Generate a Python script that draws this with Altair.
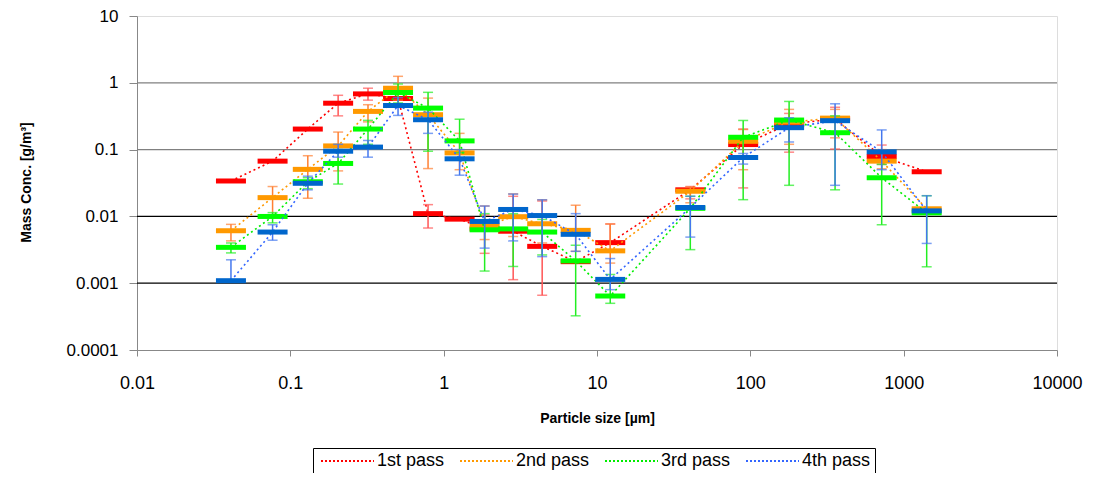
import altair as alt
import pandas as pd

sizes = [0.041, 0.0766, 0.130, 0.205, 0.321, 0.504, 0.791, 1.27, 1.85, 2.84,
         4.39, 7.26, 12.2, 40.6, 89.8, 179, 357, 719, 1413]

series = ["1st pass", "2nd pass", "3rd pass", "4th pass"]

p1_val = [0.0339, 0.0672, 0.203, 0.495, 0.682, 0.582, 0.011, 0.0091, 0.0065, 0.0060,
          0.00356, 0.0021, 0.00405, 0.025, 0.119, 0.241, 0.288, 0.0789, 0.0466]
p1_lo = [None, None, None, 0.32, 0.55, None, 0.0067, None, 0.0028, 0.00113,
         0.00066, None, 0.003, 0.0183, 0.0267, 0.0915, 0.102, 0.06, None]
p1_hi = [None, None, None, 0.65, 0.83, None, 0.015, None, 0.0105, 0.02,
         0.017, None, 0.0077, 0.028, 0.203, 0.348, 0.43, 0.117, None]

p2_val = [0.0061, 0.0191, 0.0506, 0.1135, 0.373, 0.83, 0.333, 0.0893, 0.0072, 0.0099,
          0.00776, 0.00618, 0.00305, 0.0238, 0.133, 0.258, 0.296, 0.0672, 0.0130]
p2_lo = [0.0043, 0.0096, 0.0187, 0.048, 0.26, 0.55, 0.052, 0.05, 0.0045, 0.005,
         0.004, 0.003, 0.002, 0.016, 0.05, 0.12, 0.15, 0.0516, None]
p2_hi = [0.0076, 0.028, 0.081, 0.183, 0.47, 1.25, 0.59, 0.175, 0.0143, 0.0217,
         0.0177, 0.0147, 0.0077, 0.0275, 0.2, 0.4, 0.4, 0.1, None]

p3_val = [0.00344, 0.00998, 0.033, 0.062, 0.203, 0.714, 0.418, 0.135, 0.0063, 0.0065,
          0.00583, 0.00216, 0.000643, 0.0132, 0.153, 0.277, 0.179, 0.0379, 0.0113]
p3_lo = [0.00284, 0.0080, 0.026, 0.0305, 0.12, 0.5, 0.0946, 0.09, 0.00152, 0.00178,
         0.00265, 0.000325, 0.0005, 0.00318, 0.0178, 0.0292, 0.025, 0.0075, 0.00176]
p3_hi = [0.0040, 0.0114, 0.038, 0.1, 0.274, 0.96, 0.72, 0.285, 0.011, 0.011,
         0.009, 0.0037, 0.00135, 0.02, 0.273, 0.526, 0.32, 0.06, 0.0204]

p4_val = [0.00109, 0.00583, 0.0313, 0.0946, 0.109, 0.458, 0.28, 0.0728, 0.0084, 0.0127,
          0.0103, 0.00539, 0.00114, 0.0136, 0.0762, 0.213, 0.271, 0.0925, 0.0121]
p4_lo = [0.00109, 0.0044, 0.025, 0.077, 0.077, 0.325, 0.175, 0.0414, 0.00335, 0.0043,
         0.0025, 0.003, 0.0008, 0.0049, 0.0607, 0.13, 0.0292, 0.05, 0.00394]
p4_hi = [0.00224, 0.0075, 0.04, 0.12, 0.137, 0.6, 0.364, 0.1, 0.0143, 0.0216,
         0.0177, 0.0110, 0.00234, 0.02, 0.0875, 0.3, 0.485, 0.197, 0.0204]

grid_gray = [1, 0.1]
grid_black = [0.01, 0.001]

x_ticks = [0.01, 0.1, 1, 10, 100, 1000, 10000]
y_ticks = [0.0001, 0.001, 0.01, 0.1, 1, 10]

line_colors = ["#FF0000", "#FF9900", "#00EE00", "#3366FF"]
bar_colors = ["#FF0000", "#FF9900", "#00FF00", "#0066CC"]
err_colors = ["#FF5555", "#FF8033", "#22EE22", "#4477EE"]

rows = []
for name, vals, los, his in zip(series, [p1_val, p2_val, p3_val, p4_val],
                                [p1_lo, p2_lo, p3_lo, p4_lo], [p1_hi, p2_hi, p3_hi, p4_hi]):
    for i, (s, v, l, h) in enumerate(zip(sizes, vals, los, his)):
        rows.append({"series": name, "order": i, "size": s, "value": v, "lo": l, "hi": h})
df = pd.DataFrame(rows)

FONT = "Liberation Sans"
xscale = alt.Scale(type="log", domain=[0.01, 10000])
yscale = alt.Scale(type="log", domain=[0.0001, 10])

X = alt.X("size:Q", scale=xscale, title="Particle size [µm]",
          axis=alt.Axis(values=x_ticks, format="~g", grid=False, tickSize=6,
                        labelPadding=18, labelFontSize=18, labelFont=FONT,
                        titleFont=FONT, titleFontSize=14, titleFontWeight="bold",
                        titleY=61, labelFlush=False))

YAXIS = alt.Axis(values=y_ticks, format="~g", grid=False, tickSize=8,
                 labelPadding=11, labelFontSize=17, labelFont=FONT,
                 titleFont=FONT, titleFontSize=14, titleFontWeight="bold",
                 titleX=-104, titleY=166)


def Y(field):
    return alt.Y(field, scale=yscale, title="Mass Conc. [g/m³]", axis=YAXIS)


base = alt.Chart(df)

gray_rules = alt.Chart(pd.DataFrame({"g": grid_gray})).mark_rule(
    color="#808080", strokeWidth=1.2).encode(y=Y("g:Q"))
black_rules = alt.Chart(pd.DataFrame({"g": grid_black})).mark_rule(
    color="#000000", strokeWidth=1.2).encode(y=Y("g:Q"))

legend = alt.Legend(orient="none", legendX=176, legendY=432,
                    direction="horizontal", columns=4, title=None,
                    symbolType="M-1,0H9.6", symbolSize=100,
                    symbolStrokeWidth=2, symbolDash=[2, 2],
                    labelFont=FONT, labelFontSize=18,
                    labelColor="#000000", labelOffset=42,
                    strokeColor="#000000", padding=4,
                    columnPadding=11)

layers = [gray_rules, black_rules]
for k, s in enumerate(series):
    sub = base.transform_filter(alt.datum.series == s)
    line = sub.mark_line(strokeDash=[2, 3], strokeWidth=1.6).encode(
        x=X, y=Y("value:Q"),
        color=alt.Color("series:N", scale=alt.Scale(domain=series, range=line_colors),
                        legend=legend),
        order="order:Q")
    errs = sub.transform_filter("isValid(datum.lo) && isValid(datum.hi)")
    rule = errs.mark_rule(color=err_colors[k], strokeWidth=1.5).encode(
        x=X, y=Y("lo:Q"), y2="hi:Q")
    cap_lo = errs.mark_tick(orient="horizontal", size=10, thickness=1.5,
                            color=err_colors[k]).encode(x=X, y=Y("lo:Q"))
    cap_hi = errs.mark_tick(orient="horizontal", size=10, thickness=1.5,
                            color=err_colors[k]).encode(x=X, y=Y("hi:Q"))
    bar = sub.mark_tick(orient="horizontal", size=30, thickness=5,
                        color=bar_colors[k], opacity=1).encode(x=X, y=Y("value:Q"))
    layers += [line, rule, cap_lo, cap_hi, bar]

chart = alt.layer(*layers).properties(
    width=920, height=334,
    padding={"left": 129, "top": 8, "right": 31, "bottom": 123},
    autosize=alt.AutoSizeParams(type="none"),
).configure_view(stroke="#999999", strokeWidth=1.2).configure_axis(
    domainColor="#333333", tickColor="#333333", labelColor="#000000",
    titleColor="#000000"
).configure(background="white")

chart.save("out.html", embed_options={"renderer": "svg", "actions": False})
